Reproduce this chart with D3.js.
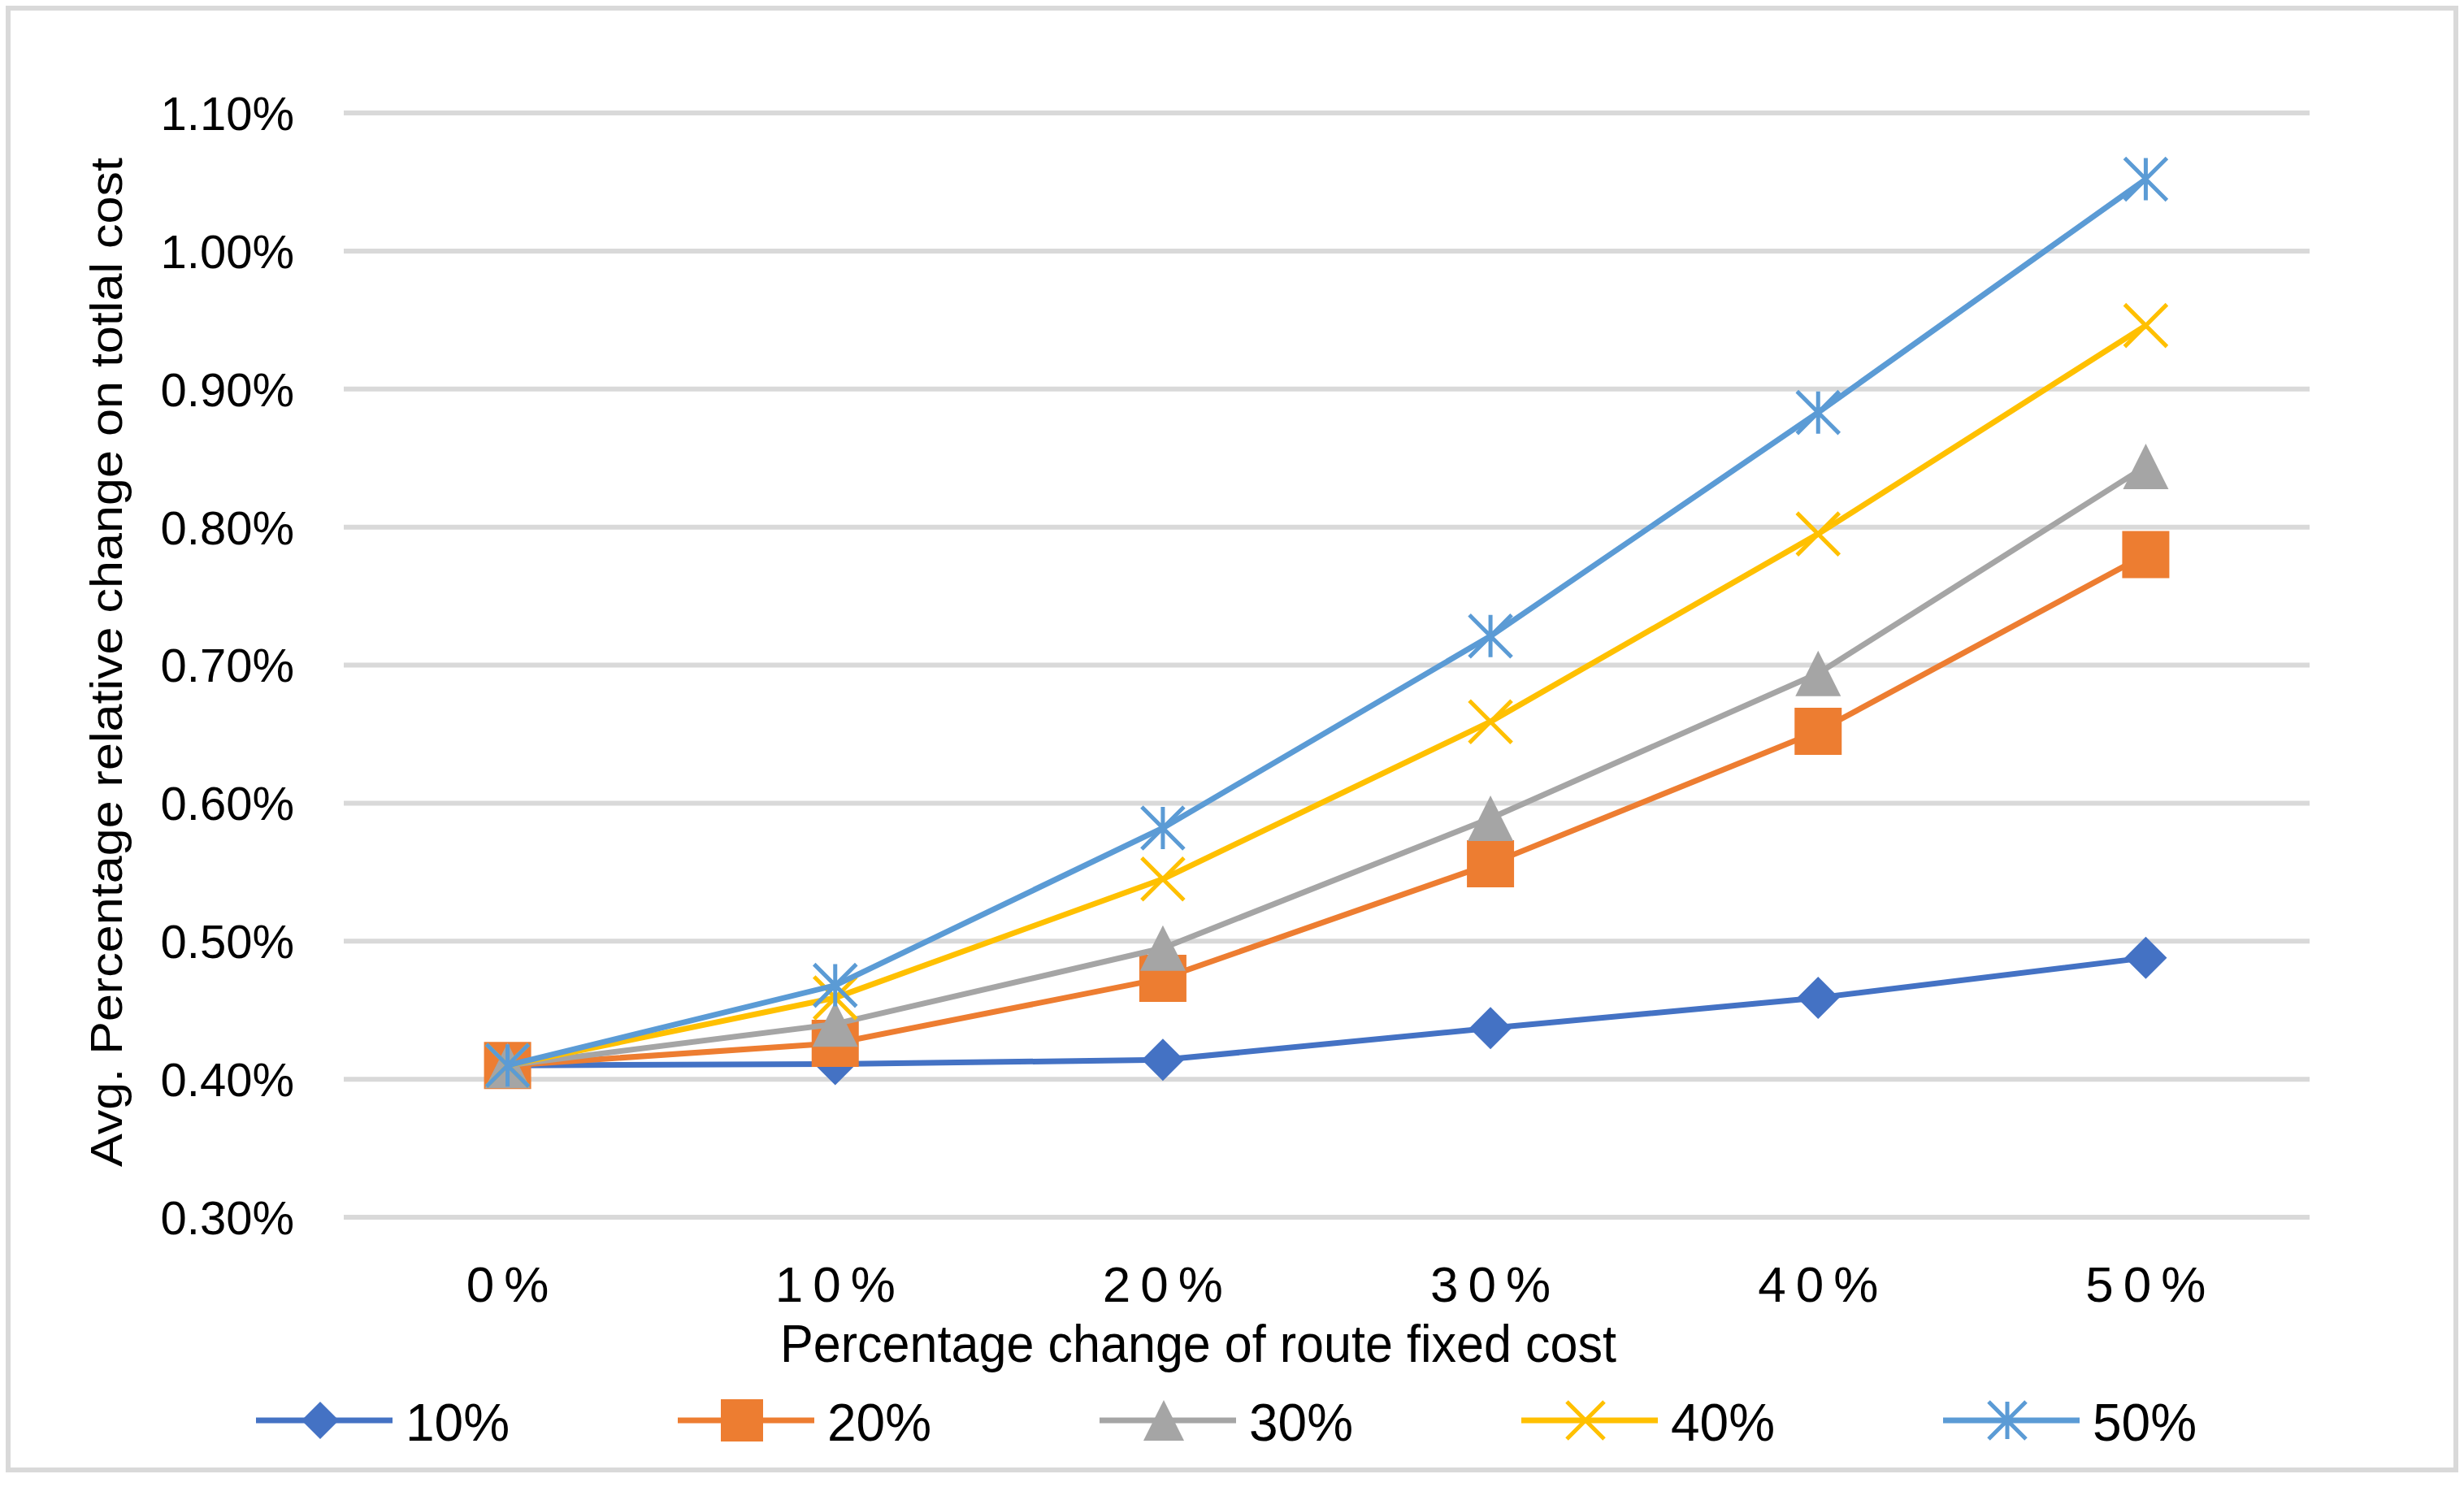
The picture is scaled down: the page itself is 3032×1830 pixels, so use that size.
<!DOCTYPE html>
<html>
<head>
<meta charset="UTF-8">
<title>Route fixed cost sensitivity</title>
<script src="https://d3js.org/d3.v7.min.js"></script>
<style>
	body { margin: 0; background: #fff; }
	text { font-family: "Liberation Sans", Arial, sans-serif; fill: #000; }
</style>
</head>
<body>
<svg id="chart"></svg>
<script type="text/javascript">
	// data (values in %)
	var categories = ["0%", "10%", "20%", "30%", "40%", "50%"];
	var seriesNames = ["10%", "20%", "30%", "40%", "50%"];
	var s10 = [0.410, 0.411, 0.414, 0.437, 0.459, 0.488];
	var s20 = [0.410, 0.426, 0.473, 0.556, 0.652, 0.780];
	var s30 = [0.410, 0.440, 0.495, 0.589, 0.694, 0.844];
	var s40 = [0.410, 0.459, 0.545, 0.659, 0.795, 0.946];
	var s50 = [0.410, 0.468, 0.582, 0.721, 0.883, 1.052];
	var yTicks = [0.3, 0.4, 0.5, 0.6, 0.7, 0.8, 0.9, 1.0, 1.1];

	var seriesValues = [s10, s20, s30, s40, s50];
	var colors = ["#4472C4", "#ED7D31", "#A5A5A5", "#FFC000", "#5B9BD5"];
	var markers = ["diamond", "square", "triangle", "x", "star"];

	var W = 3032, H = 1830;
	var plot = { left: 423, right: 2842, top: 139, bottom: 1498 };

	var svg = d3.select("#chart").attr("width", W).attr("height", H);

	// outer frame
	svg.append("rect")
		.attr("x", 10).attr("y", 10)
		.attr("width", 3012).attr("height", 1799)
		.attr("fill", "#fff")
		.attr("stroke", "#d9d9d9")
		.attr("stroke-width", 6);

	var x = d3.scaleBand().domain(categories).range([plot.left, plot.right]);
	var y = d3.scaleLinear().domain([0.3, 1.1]).range([plot.bottom, plot.top]);
	var cx = function(c) { return x(c) + x.bandwidth() / 2; };

	// gridlines
	svg.append("g").selectAll("line").data(yTicks).enter().append("line")
		.attr("x1", plot.left).attr("x2", plot.right)
		.attr("y1", function(d) { return y(d); })
		.attr("y2", function(d) { return y(d); })
		.attr("stroke", "#d9d9d9")
		.attr("stroke-width", 6);

	// y tick labels
	svg.append("g").selectAll("text").data(yTicks).enter().append("text")
		.attr("x", 362)
		.attr("y", function(d) { return y(d); })
		.attr("dy", "0.36em")
		.attr("text-anchor", "end")
		.style("font-size", "58px")
		.text(function(d) { return d.toFixed(2) + "%"; });

	// x tick labels
	svg.append("g").selectAll("text").data(categories).enter().append("text")
		.attr("x", function(d) { return cx(d) + 6; })
		.attr("y", 1602)
		.attr("text-anchor", "middle")
		.style("font-size", "62px")
		.style("letter-spacing", "12px")
		.text(function(d) { return d; });

	// axis titles
	svg.append("text")
		.attr("x", 960).attr("y", 1676)
		.attr("textLength", 1029)
		.attr("lengthAdjust", "spacingAndGlyphs")
		.style("font-size", "64px")
		.text("Percentage change of route fixed cost");

	svg.append("text")
		.attr("transform", "translate(150,1436) rotate(-90)")
		.attr("textLength", 1242)
		.attr("lengthAdjust", "spacingAndGlyphs")
		.style("font-size", "56px")
		.text("Avg. Percentage relative change on totlal cost");

	// marker shapes
	function markerPath(type, s)
	{
		var h = s / 2;
		switch (type)
		{
			case "diamond": return "M0," + (-h) + "L" + h + ",0L0," + h + "L" + (-h) + ",0Z";
			case "square": return "M" + (-h) + "," + (-h) + "h" + s + "v" + s + "h" + (-s) + "Z";
			case "triangle": return "M0," + (-h) + "L" + h + "," + h + "L" + (-h) + "," + h + "Z";
			case "x": return "M" + (-h) + "," + (-h) + "L" + h + "," + h + "M" + h + "," + (-h) + "L" + (-h) + "," + h;
			case "star": return "M" + (-h) + "," + (-h) + "L" + h + "," + h + "M" + h + "," + (-h) + "L" + (-h) + "," + h +
				"M0," + (-h) + "L0," + h;
		}
	}
	var markerSize = [52, 58, 56, 52, 52];

	function drawMarker(g, i, size)
	{
		var filled = markers[i] == "diamond" || markers[i] == "square" || markers[i] == "triangle";
		g.attr("d", markerPath(markers[i], size))
			.attr("fill", filled ? colors[i] : "none")
			.attr("stroke", colors[i])
			.attr("stroke-width", filled ? 0 : 5);
	}

	var line = d3.line()
		.x(function(d, i) { return cx(categories[i]); })
		.y(function(d) { return y(d); });

	// series
	seriesValues.forEach(function(vals, i)
	{
		var g = svg.append("g");
		g.append("path")
			.datum(vals)
			.attr("d", line)
			.attr("fill", "none")
			.attr("stroke", colors[i])
			.attr("stroke-width", 7)
			.attr("stroke-linejoin", "round");
		g.selectAll("path.m").data(vals).enter().append("path")
			.classed("m", true)
			.attr("transform", function(d, j) { return "translate(" + cx(categories[j]) + "," + y(d) + ")"; })
			.each(function() { drawMarker(d3.select(this), i, markerSize[i]); });
	});

	// legend
	var legendY = 1748;
	seriesNames.forEach(function(name, i)
	{
		var lx = 315 + i * 519;
		var g = svg.append("g").attr("transform", "translate(" + lx + "," + legendY + ")");
		g.append("line")
			.attr("x1", 0).attr("x2", 168)
			.attr("y1", 0).attr("y2", 0)
			.attr("stroke", colors[i])
			.attr("stroke-width", 7);
		drawMarker(g.append("path").attr("transform", "translate(79,0)"), i, markerSize[i] - 6);
		g.append("text")
			.attr("x", 184).attr("y", 25)
			.style("font-size", "64px")
			.text(name);
	});
</script>
</body>
</html>
